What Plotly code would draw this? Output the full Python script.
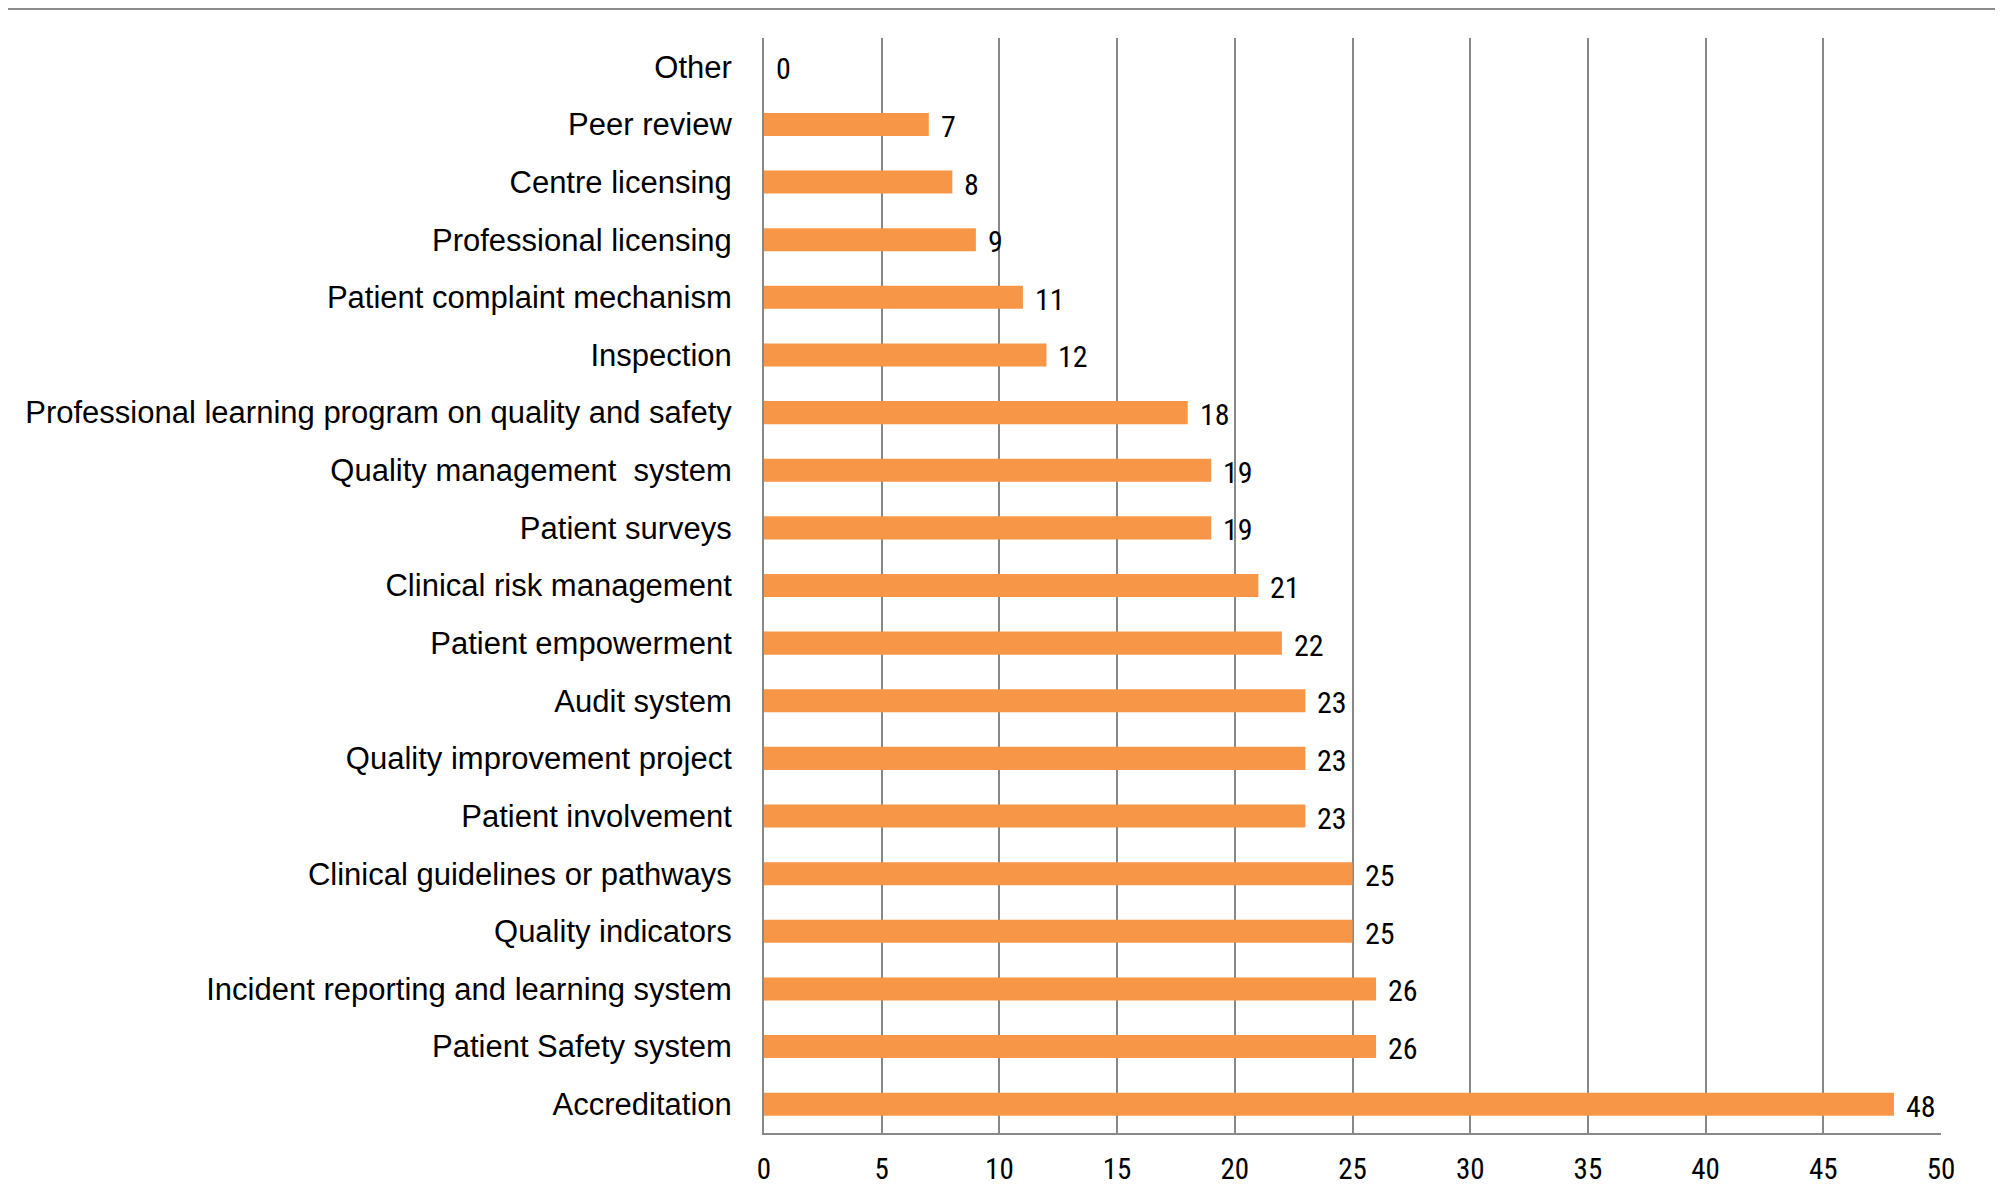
import plotly.graph_objects as go

categories = [
    "Accreditation",
    "Patient Safety system",
    "Incident reporting and learning system",
    "Quality indicators",
    "Clinical guidelines or pathways",
    "Patient involvement",
    "Quality improvement project",
    "Audit system",
    "Patient empowerment",
    "Clinical risk management",
    "Patient surveys",
    "Quality management  system",
    "Professional learning program on quality and safety",
    "Inspection",
    "Patient complaint mechanism",
    "Professional licensing",
    "Centre licensing",
    "Peer review",
    "Other",
]
values = [48, 26, 26, 25, 25, 23, 23, 23, 22, 21, 19, 19, 18, 12, 11, 9, 8, 7, 0]
tick_vals = [0, 5, 10, 15, 20, 25, 30, 35, 40, 45, 50]

W, H = 2003, 1187
L, R, T, B = 756, 70, 30, 62
pw = W - L - R
ph = H - T - B

num_font = "Liberation Sans Narrow, Roboto Condensed, Open Sans, sans-serif"

fig = go.Figure()
fig.add_trace(go.Bar(
    y=categories, x=values, orientation="h",
    marker=dict(color="#F79646", line=dict(width=0)),
    hoverinfo="skip",
))

for c, v in zip(categories, values):
    fig.add_annotation(
        x=v, y=c, text=str(v), showarrow=False,
        xanchor="left", yanchor="middle", xshift=10, yshift=-2,
        font=dict(family=num_font, size=30, color="#000000"),
    )

# outer frame lines (top and right)
x_left = -L / pw
y_top = (ph + T - 1) / ph
x_right = (1988 - L) / pw
fig.add_shape(type="line", xref="paper", yref="paper",
              x0=x_left, x1=x_right, y0=y_top, y1=y_top,
              line=dict(color="#8c8c8c", width=2))
fig.add_shape(type="line", xref="paper", yref="paper",
              x0=x_right, x1=x_right, y0=y_top, y1=-B / ph,
              line=dict(color="#8c8c8c", width=2))

fig.update_layout(
    width=W, height=H,
    margin=dict(l=L, r=R, t=T, b=B, autoexpand=False),
    paper_bgcolor="white", plot_bgcolor="white",
    bargap=0.6,
    showlegend=False,
    font=dict(family="Liberation Sans, Arial, sans-serif", color="#000000"),
)
fig.update_xaxes(
    range=[0, 50], tickvals=tick_vals, ticktext=[str(t) for t in tick_vals],
    showgrid=True, gridcolor="#888888", gridwidth=2,
    showline=True, linecolor="#888888", linewidth=2,
    zeroline=False, ticks="", ticklabelstandoff=9, automargin=False,
    tickfont=dict(family=num_font, size=29, color="#000000"),
    fixedrange=True,
)
fig.update_yaxes(
    categoryorder="array", categoryarray=categories,
    showline=True, linecolor="#888888", linewidth=2,
    showgrid=False, ticks="", ticklabelstandoff=24, automargin=False,
    tickfont=dict(family="Liberation Sans, Arial, sans-serif", size=31, color="#000000"),
    fixedrange=True,
)

fig.write_html("out.html")
